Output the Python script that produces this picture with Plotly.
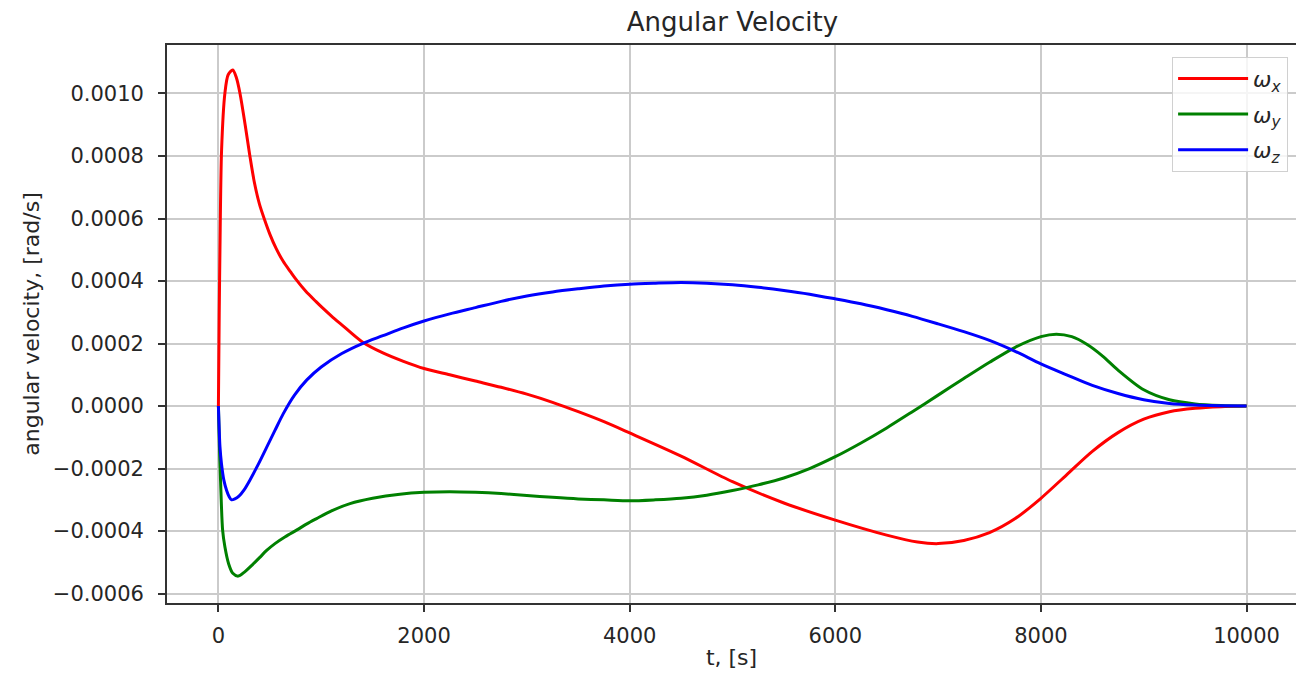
import plotly.graph_objects as go

# Time samples [s] and angular-velocity components [1e-4 rad/s]
t_x = [0, 8, 15, 31, 63, 95, 140, 175, 210, 260, 306, 350, 400, 450, 500, 560, 630,
       700, 755, 850, 950, 1000, 1100, 1200, 1400, 1600, 1800, 2000, 2250, 2500, 2750,
       3000, 3250, 3500, 3750, 4000, 4500, 5000, 5500, 6000, 6500, 6800, 7000, 7250,
       7500, 7750, 8000, 8250, 8500, 8750, 9000, 9250, 9500, 9750, 10000]
w_x = [0, 3.0, 5.0, 8.2, 10.0, 10.6, 10.75, 10.5, 10.0, 9.0, 8.0, 7.15, 6.45, 5.95,
       5.5, 5.05, 4.63, 4.3, 4.05, 3.67, 3.34, 3.18, 2.88, 2.6, 2.05, 1.7, 1.43, 1.2,
       1.0, 0.8, 0.6, 0.38, 0.12, -0.18, -0.5, -0.86, -1.6, -2.42, -3.1, -3.65, -4.13,
       -4.35, -4.4, -4.3, -4.05, -3.6, -2.95, -2.2, -1.45, -0.85, -0.42, -0.18, -0.07,
       -0.02, 0]

t_y = [0, 10, 21, 41, 63, 100, 140, 193, 250, 330, 400, 469, 550, 650, 760, 860, 955,
       1100, 1280, 1500, 1765, 2000, 2250, 2500, 2750, 3000, 3250, 3500, 3750, 4000,
       4250, 4500, 4750, 5000, 5250, 5500, 5750, 6000, 6250, 6500, 6750, 7000, 7250,
       7500, 7750, 8000, 8150, 8300, 8450, 8600, 8750, 9000, 9250, 9500, 9750, 10000]
w_y = [0, -1.3, -2.4, -3.97, -4.5, -5.05, -5.35, -5.44, -5.32, -5.08, -4.85, -4.62,
       -4.4, -4.18, -3.97, -3.77, -3.6, -3.35, -3.12, -2.95, -2.82, -2.76, -2.74, -2.76,
       -2.8, -2.86, -2.92, -2.97, -3.0, -3.03, -3.0, -2.95, -2.85, -2.7, -2.52, -2.3,
       -2.0, -1.62, -1.18, -0.7, -0.18, 0.35, 0.88, 1.4, 1.88, 2.22, 2.3, 2.22, 1.97,
       1.6, 1.15, 0.52, 0.2, 0.07, 0.02, 0]

t_z = [0, 15, 30, 53, 80, 105, 128, 160, 200, 250, 306, 390, 469, 550, 630, 740, 858,
       1000, 1200, 1400, 1600, 1800, 2000, 2250, 2500, 2750, 3000, 3250, 3500, 3750,
       4000, 4250, 4500, 4750, 5000, 5250, 5500, 5750, 6000, 6250, 6500, 6750, 7000,
       7250, 7500, 7750, 8000, 8250, 8500, 8750, 9000, 9250, 9500, 9750, 10000]
w_z = [0, -1.3, -1.85, -2.37, -2.7, -2.9, -3.0, -2.97, -2.88, -2.68, -2.37, -1.85,
       -1.32, -0.78, -0.25, 0.35, 0.83, 1.25, 1.68, 2.0, 2.25, 2.5, 2.72, 2.95, 3.15,
       3.35, 3.52, 3.65, 3.75, 3.84, 3.9, 3.93, 3.95, 3.93, 3.88, 3.8, 3.7, 3.58, 3.43,
       3.27, 3.08, 2.87, 2.63, 2.38, 2.1, 1.75, 1.35, 1.0, 0.66, 0.4, 0.2, 0.08, 0.03,
       0.01, 0]

x_ticks = [0, 2000, 4000, 6000, 8000, 10000]
y_ticks = [-0.0006, -0.0004, -0.0002, 0.0, 0.0002, 0.0004, 0.0006, 0.0008, 0.0010]

SCALE = 1e-4
FONT = "DejaVu Sans"

series = [
    ("<i>ω<sub>x</sub></i>", t_x, w_x, "#ff0000"),
    ("<i>ω<sub>y</sub></i>", t_y, w_y, "#008000"),
    ("<i>ω<sub>z</sub></i>", t_z, w_z, "#0000ff"),
]

fig = go.Figure()
for i, (name, t, w, color) in enumerate(series):
    fig.add_trace(go.Scatter(
        x=t, y=[v * SCALE for v in w], mode="lines", name=name,
        legendgroup=f"g{i}",
        line=dict(color=color, width=3, shape="spline", smoothing=0.8),
    ))

axis_common = dict(
    showgrid=True, gridcolor="#cbcbcb", gridwidth=1.6,
    showline=True, linecolor="#333333", linewidth=1.8,
    ticks="outside", ticklen=7, tickwidth=1.6, tickcolor="#333333",
    tickfont=dict(family=FONT, size=21, color="#262626"),
    zeroline=False,
)

fig.update_layout(
    width=1296, height=674,
    margin=dict(l=167, r=0, t=45, b=71),
    paper_bgcolor="white", plot_bgcolor="white",
    font=dict(family=FONT, color="#262626"),
    title=dict(text="Angular Velocity", x=(167 + 1298) / 2 / 1296, xanchor="center",
               y=1 - 22 / 674, yanchor="middle",
               font=dict(family=FONT, size=26, color="#262626")),
    xaxis=dict(axis_common, range=[-500, 10481], tickvals=x_ticks, tickformat="d",
               mirror=True, ticklabelstandoff=6,
               title=dict(text="t, [s]", font=dict(family=FONT, size=22), standoff=3)),
    yaxis=dict(axis_common, range=[-0.00063, 0.001155], tickvals=y_ticks,
               tickformat=".4f", ticklabelstandoff=10,
               title=dict(text="angular velocity, [rad/s]",
                          font=dict(family=FONT, size=22), standoff=7)),
    legend=dict(
        x=0.993, y=0.979, xanchor="right", yanchor="top",
        bgcolor="rgba(255,255,255,0.8)", bordercolor="#d0d0d0", borderwidth=1,
        font=dict(family=FONT, size=22, color="#262626"),
        tracegroupgap=4, itemwidth=70,
    ),
    showlegend=True,
)

fig.write_html("out.html")
